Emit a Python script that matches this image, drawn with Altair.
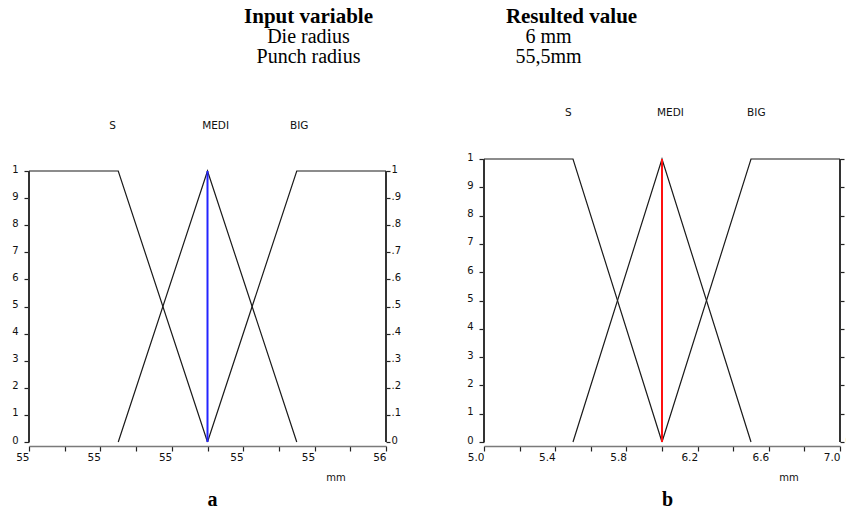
import altair as alt
import pandas as pd

# ---------------- data ----------------
set_names = ["S", "MEDI", "BIG"]
s_y = [1, 1, 0]
medi_y = [0, 1, 0]
big_y = [0, 1, 1]

# panel a : punch radius (mm)
a_s_x = [55.0, 55.25, 55.5]
a_medi_x = [55.25, 55.5, 55.75]
a_big_x = [55.5, 55.75, 56.0]
a_result = 55.5
a_x_ticks = [55.0, 55.1, 55.2, 55.3, 55.4, 55.5, 55.6, 55.7, 55.8, 55.9, 56.0]
a_label_x = [55.225, 55.485, 55.731]

# panel b : die radius (mm)
b_s_x = [5.0, 5.5, 6.0]
b_medi_x = [5.5, 6.0, 6.5]
b_big_x = [6.0, 6.5, 7.0]
b_result = 6.0
b_x_ticks = [5.0, 5.2, 5.4, 5.6, 5.8, 6.0, 6.2, 6.4, 6.6, 6.8, 7.0]
b_label_x = [5.455, 5.972, 6.478]

y_ticks = [0, 0.1, 0.2, 0.3, 0.4, 0.5, 0.6, 0.7, 0.8, 0.9, 1.0]

header_a = ["Input variable", "Die radius", "Punch radius"]
header_b = ["Resulted value", "6 mm", "55,5mm"]
panel_letters = ["a", "b"]
unit_text = "mm"

AXF = "DejaVu Sans"
SERIF = "Liberation Serif"


def make_panel(s_x, m_x, b_x, result, xticks, label_x, label_y, unit_xy,
               x_dom, y_dom, width, hl_color, label_expr, header, letter,
               head_x, sub_x):
    rows = []
    for name, xs, ys in zip(set_names, [s_x, m_x, b_x], [s_y, medi_y, big_y]):
        for i, (xv, yv) in enumerate(zip(xs, ys)):
            rows.append({"set": name, "x": xv, "y": yv, "o": i})
    lines_df = pd.DataFrame(rows)

    xscale = alt.Scale(domain=x_dom, nice=False, zero=False)
    yscale = alt.Scale(domain=y_dom, nice=False, zero=False)
    xaxis = alt.Axis(values=xticks, labelExpr=label_expr, title=letter, orient="bottom",
                     titleFont=SERIF, titleFontSize=20, titleFontWeight="bold",
                     titleColor="black", titleX=183, titleY=59, titleAlign="center",
                     titleBaseline="alphabetic", offset=4, domainColor="#7a7a7a",
                     domainWidth=1.5, tickColor="#222", tickSize=5, tickWidth=1.2,
                     labelFont=AXF, labelFontSize=10.5, labelColor="#111",
                     labelAlign="right", labelPadding=1, labelFlush=False,
                     labelOverlap=False, grid=False)
    # header lines drawn as titles of two blank top axes
    head_axis = alt.Axis(orient="top", domain=False, ticks=False, labels=False,
                         grid=False, title=header[0], titleFont=SERIF,
                         titleFontSize=21, titleFontWeight="bold", titleColor="black",
                         titleX=head_x, titleY=-137, titleAlign="center",
                         titleBaseline="alphabetic")
    sub_axis = alt.Axis(orient="top", domain=False, ticks=False, labels=False,
                        grid=False, title=header[1:], titleFont=SERIF,
                        titleFontSize=20, titleFontWeight="normal", titleColor="black",
                        titleLineHeight=20, titleX=sub_x, titleY=-117,
                        titleAlign="center", titleBaseline="alphabetic")

    def X(axis):
        return alt.X("x:Q", scale=xscale, axis=axis)

    lines = alt.Chart(lines_df).mark_line(color="#1a1a1a", strokeWidth=1.2).encode(
        x=X(xaxis),
        y=alt.Y("y:Q", scale=yscale,
                axis=alt.Axis(values=y_ticks, orient="left", domain=False,
                              title=None, grid=False, tickSize=5, tickColor="#222",
                              tickWidth=1.2, labelPadding=6, labelBaseline="alphabetic",
                              labelOffset=1, labelFont=AXF, labelFontSize=10,
                              labelColor="#111",
                              labelExpr="datum.value == 1 ? '1' : datum.value == 0 ? '0' : format(datum.value*10, '.0f')")),
        detail="set:N",
        order="o:Q",
    )

    frame_df = pd.DataFrame({"x": [x_dom[0], x_dom[1]], "lo": [0, 0], "hi": [1, 1]})
    frame = alt.Chart(frame_df).mark_rule(color="#333", strokeWidth=2).encode(
        x=X(None),
        y=alt.Y("lo:Q", scale=yscale,
                axis=alt.Axis(values=y_ticks, orient="right", domain=False,
                              title=None, grid=False, tickSize=4, tickColor="#222",
                              tickWidth=1.2, labelPadding=1, labelBaseline="alphabetic",
                              labelOffset=1, labelFont=AXF, labelFontSize=10,
                              labelColor="#111",
                              labelExpr="datum.value == 1 ? '1' : datum.value == 0 ? '0' : '.' + format(datum.value*10, '.0f')")),
        y2="hi:Q",
    )

    hl_df = pd.DataFrame({"x": [result], "lo": [0], "hi": [1]})
    hl = alt.Chart(hl_df).mark_rule(color=hl_color, strokeWidth=2).encode(
        x=X(None), y=alt.Y("lo:Q", scale=yscale, axis=None), y2="hi:Q")

    lab_df = pd.DataFrame({"x": label_x, "y": [label_y] * 3, "t": set_names})
    labs = alt.Chart(lab_df).mark_text(align="left", baseline="middle", font=AXF,
                                       fontSize=10.5, color="#111").encode(
        x=X(head_axis), y=alt.Y("y:Q", scale=yscale, axis=None), text="t:N")

    unit_df = pd.DataFrame({"x": [unit_xy[0]], "y": [unit_xy[1]], "t": [unit_text]})
    unit = alt.Chart(unit_df).mark_text(align="center", baseline="middle", font=AXF,
                                        fontSize=10, color="#111").encode(
        x=X(sub_axis), y=alt.Y("y:Q", scale=yscale, axis=None), text="t:N")

    return alt.layer(lines, frame, hl, labs, unit).resolve_axis(
        x="independent", y="independent").properties(width=width, height=283)


pa = make_panel(a_s_x, a_medi_x, a_big_x, a_result, a_x_ticks, a_label_x, 1.165,
                (55.86, -0.133), [55.0, 56.0], [0, 1.0443], 357, "#2424ff",
                "round(datum.value*10) % 2 == 0 ? format(floor(datum.value + 0.000001), 'd') : ''",
                header_a, panel_letters[0], 279, 279)

pb = make_panel(b_s_x, b_medi_x, b_big_x, b_result, b_x_ticks, b_label_x, 1.162,
                (6.713, -0.127), [5.0, 7.0], [0, 1], 356, "#ff1010",
                "round(datum.value*10) % 4 == 2 ? format(datum.value, '.1f') : ''",
                header_b, panel_letters[1], 87, 64)

chart = alt.hconcat(pa, pb, spacing=98, bounds="flush").properties(
    autosize=alt.AutoSizeParams(type="none"),
    padding={"left": 21, "top": 151, "right": 817, "bottom": 347},
    background="white",
).configure_view(stroke=None)

chart.save("out.html", embed_options={"renderer": "svg", "actions": False})
